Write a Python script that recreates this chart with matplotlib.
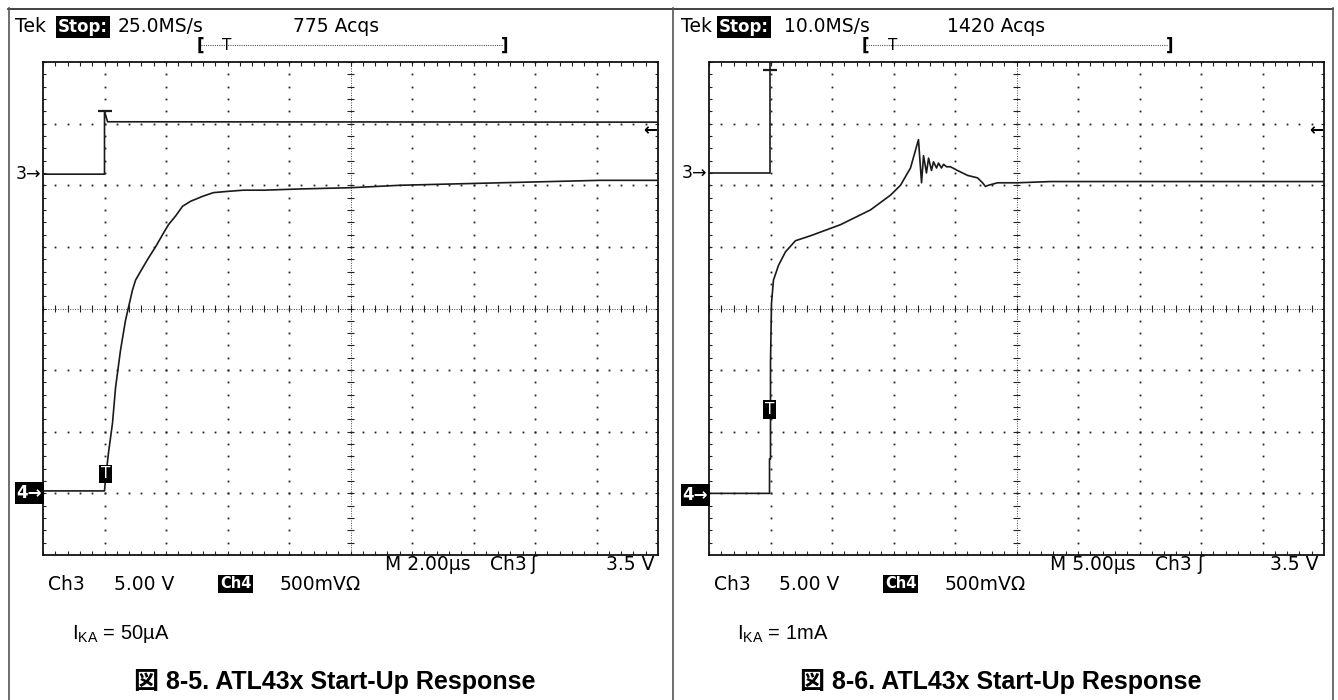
import numpy as np
import matplotlib
matplotlib.use('Agg')
import matplotlib.pyplot as plt

plt.rcParams['mathtext.fontset'] = 'custom'
plt.rcParams['mathtext.rm'] = 'Liberation Sans'

W, H = 1338, 700

# scope settings shown on screen
time_div = [2.0, 5.0]          # us / div
ch3_div = 5.0                  # V / div
ch4_div = 0.5                  # V / div
ch3_gnd = [6.18, 6.20]         # ground marker position (div from bottom)
ch4_gnd = [1.04, 1.00]
sample_rate = ['25.0MS/s', '10.0MS/s']
acqs = ['775 Acqs', '1420 Acqs']
ika = ['50µA', '1mA']
fig_no = ['8-5', '8-6']

# Ch3 (input step), time in us, volts
ch3_t_a = [-2.0, 0.0, 0.0, 0.1, 18.0]
ch3_v_a = [0.0, 0.0, 5.1, 4.25, 4.22]
ch3_peak_a = (0.0, 5.1)
ch3_t_b = [-5.0, -0.05, -0.05, 45.0]
ch3_v_b = [0.0, 0.0, 12.0, 12.0]
ch3_peak_b = (-0.05, 8.36)

# Ch4 (cathode voltage), time in us, volts -- IKA = 50uA
ch4_t_a = [-2.0, 0.0, 0.03, 0.13, 0.26, 0.36, 0.52, 0.68, 0.78, 0.91, 1.01,
           1.17, 1.43, 1.66, 1.89, 2.08, 2.31, 2.54, 2.80, 3.19, 3.54, 3.99,
           4.52, 5.17, 6.37, 8.00, 9.63, 12.88, 16.13, 17.98]
ch4_v_a = [0.0, 0.0, 0.09, 0.31, 0.55, 0.84, 1.14, 1.38, 1.49, 1.63, 1.71,
           1.78, 1.89, 1.98, 2.08, 2.16, 2.23, 2.31, 2.35, 2.39, 2.42, 2.43,
           2.44, 2.44, 2.45, 2.46, 2.48, 2.50, 2.52, 2.52]

# Ch4, IKA = 1mA
ch4_t_b = [-5.0, -0.08, -0.08, 0.0, 0.0, 0.08, 0.24, 0.65, 1.22, 2.03, 3.25,
           5.69, 8.13, 9.76, 10.57, 11.38, 12.03, 12.28, 12.44, 12.68, 12.85,
           13.09, 13.25, 13.50, 13.66, 13.90, 14.07, 14.31, 14.63, 15.20,
           16.02, 16.83, 17.24, 17.48, 17.72, 18.46, 20.08, 22.76, 45.0]
ch4_v_b = [0.0, 0.0, 0.28, 0.28, 1.06, 1.54, 1.73, 1.85, 1.96, 2.05, 2.09,
           2.18, 2.30, 2.42, 2.50, 2.64, 2.87, 2.52, 2.74, 2.60, 2.72,
           2.62, 2.69, 2.64, 2.68, 2.64, 2.67, 2.65, 2.65, 2.62,
           2.58, 2.56, 2.52, 2.49, 2.50, 2.52, 2.52, 2.53, 2.53]

panels = [
    dict(grid=(43, 62, 658, 555), ch3=(ch3_t_a, ch3_v_a, ch3_peak_a),
         ch4=(ch4_t_a, ch4_v_a), tek=15, stop=(57, 109), rate=118, acq=293,
         brk=(197, 227, 505), m=385, trg_ch=490, slope=530, lvl=655,
         ch3x=48, vx=114, ch4box=(219, 245), mv=280, tbox=(105.5, 474),
         ika=72, cap=335),
    dict(grid=(709, 62, 1324, 555), ch3=(ch3_t_b, ch3_v_b, ch3_peak_b),
         ch4=(ch4_t_b, ch4_v_b), tek=681, stop=(718, 774), rate=784, acq=947,
         brk=(862, 893, 1170), m=1050, trg_ch=1155, slope=1197, lvl=1318,
         ch3x=714, vx=779, ch4box=(884, 911), mv=945, tbox=(769.5, 409.5),
         ika=737, cap=1001),
]

fig = plt.figure(figsize=(W / 100, H / 100), dpi=100)


def rect(x0, y0, x1, y1):
    return [x0 / W, 1 - y1 / H, (x1 - x0) / W, (y1 - y0) / H]


dot_col = '#222222'
minor = np.arange(0, 10.01, 0.2)
minor_y = np.arange(0, 8.01, 0.2)

for i, p in enumerate(panels):
    r = rect(*p['grid'])

    # graticule, in divisions
    g = fig.add_axes(r)
    g.set_xlim(0, 10)
    g.set_ylim(0, 8)
    g.set_xticks([])
    g.set_yticks([])
    for s in g.spines.values():
        s.set_linewidth(1.3)
        s.set_color('#111111')
    for gy in [1, 2, 3, 5, 6, 7]:
        g.plot(minor, np.full_like(minor, gy), ls='none', marker='s', ms=1.3,
               mew=0, color=dot_col)
    for gx in [1, 2, 3, 4, 6, 7, 8, 9]:
        g.plot(np.full_like(minor_y, gx), minor_y, ls='none', marker='s',
               ms=1.3, mew=0, color=dot_col)
    # center crosshair
    g.plot([0, 10], [4, 4], ls=(0, (1, 1.5)), lw=0.7, color='#444444')
    g.plot([5, 5], [0, 8], ls=(0, (1, 1.5)), lw=0.7, color='#444444')
    g.vlines(minor, 3.94, 4.06, lw=0.8, color=dot_col)
    g.hlines(minor_y, 4.94, 5.06, lw=0.8, color=dot_col)
    # edge ticks
    g.vlines(minor, 0, 0.07, lw=0.8, color=dot_col)
    g.vlines(minor, 7.93, 8, lw=0.8, color=dot_col)
    g.hlines(minor_y, 0, 0.05, lw=0.8, color=dot_col)
    g.hlines(minor_y, 9.95, 10, lw=0.8, color=dot_col)

    td = time_div[i]
    t0 = -td

    # Ch4 trace on its own volt scale
    a4 = fig.add_axes(r)
    a4.set_xlim(t0, t0 + 10 * td)
    a4.set_ylim(-ch4_gnd[i] * ch4_div, (8 - ch4_gnd[i]) * ch4_div)
    a4.axis('off')
    a4.patch.set_alpha(0)
    a4.plot(p['ch4'][0], p['ch4'][1], color='#1a1a1a', lw=1.2)

    # Ch3 trace
    a3 = fig.add_axes(r)
    a3.set_xlim(t0, t0 + 10 * td)
    a3.set_ylim(-ch3_gnd[i] * ch3_div, (8 - ch3_gnd[i]) * ch3_div)
    a3.axis('off')
    a3.patch.set_alpha(0)
    a3.plot(p['ch3'][0], p['ch3'][1], color='#1a1a1a', lw=1.2)
    a3.plot(*p['ch3'][2], marker='_', ms=10, mew=1.6, color='#1a1a1a')

# text layer in pixel units
ov = fig.add_axes([0, 0, 1, 1])
ov.set_xlim(0, W)
ov.set_ylim(H, 0)
ov.axis('off')
ov.patch.set_alpha(0)

# outer table frame
ov.plot([8, 1333], [8.5, 8.5], color='#222222', lw=1.2)
ov.plot([8.5, 8.5], [8, 700], color='#555555', lw=1.2)
ov.plot([672.5, 672.5], [8, 700], color='#555555', lw=1.2)
ov.plot([1332.5, 1332.5], [8, 700], color='#555555', lw=1.2)

scope = dict(family='DejaVu Sans', fontsize=13.5, color='black',
             va='center')
box = dict(boxstyle='square,pad=0.12', fc='black', ec='none')

for i, p in enumerate(panels):
    x0, y0, x1, y1 = p['grid']
    ov.text(p['tek'], 27, 'Tek', **scope)
    ov.text(p['stop'][0] + 1, 27, 'Stop:', fontweight='bold',
            bbox=box, **{**scope, 'color': 'white', 'fontsize': 12})
    ov.text(p['rate'], 27, sample_rate[i], **scope)
    ov.text(p['acq'], 27, acqs[i], **scope)

    # trigger position bracket
    b0, bt, b1 = p['brk']
    ov.plot([b0 + 4, b1 - 2], [45, 45], ls=(0, (1, 1)), lw=0.8, color='#555555')
    ov.text(b0, 46, '[', **{**scope, 'fontsize': 12, 'fontweight': 'bold'})
    ov.text(bt, 45, 'T', ha='center', **{**scope, 'fontsize': 11})
    ov.text(b1 - 4, 46, ']', **{**scope, 'fontsize': 12, 'fontweight': 'bold'})

    # channel ground markers
    g3 = y1 - ch3_gnd[i] * 61.6
    g4 = y1 - ch4_gnd[i] * 61.6
    ov.text(x0 - 2, g3, '3→', ha='right', **{**scope, 'fontsize': 12.5})
    ov.text(x0 - 1, g4 + 2, '4→', ha='right', fontweight='bold',
            bbox=box, **{**scope, 'color': 'white', 'fontsize': 12})
    ov.text(x1 - 1, 130, '←', ha='right', fontweight='bold',
            **{**scope, 'fontsize': 12})

    # trigger marker on trace
    ov.text(p['tbox'][0], p['tbox'][1], 'T', ha='center', bbox=box,
            **{**scope, 'color': 'white', 'fontsize': 11})

    # readouts
    ov.text(p['m'], 564, 'M %.2fµs' % time_div[i], **scope)
    ov.text(p['trg_ch'], 564, 'Ch3', **scope)
    ov.text(p['slope'], 564, 'ʃ', **scope)
    ov.text(p['lvl'], 564, '3.5 V', ha='right', **scope)
    ov.text(p['ch3x'], 584, 'Ch3', **scope)
    ov.text(p['vx'], 584, '%.2f V' % ch3_div, **scope)
    ov.text(p['ch4box'][0] + 1, 584, 'Ch4', fontweight='bold', bbox=box,
            **{**scope, 'color': 'white', 'fontsize': 10.5})
    ov.text(p['mv'], 584, '%dmVΩ' % (ch4_div * 1000), **scope)

    ov.text(p['ika'], 634, r'I$_{\mathrm{KA}}$ = ' + ika[i],
            family='Liberation Sans', fontsize=14.5, va='center')
    ov.text(p['cap'], 681, '図 %s. ATL43x Start-Up Response' % fig_no[i],
            family=['Liberation Sans', 'Noto Sans CJK JP'], fontweight='bold',
            fontsize=18, ha='center', va='center')

fig.savefig('out.png', dpi=100)
